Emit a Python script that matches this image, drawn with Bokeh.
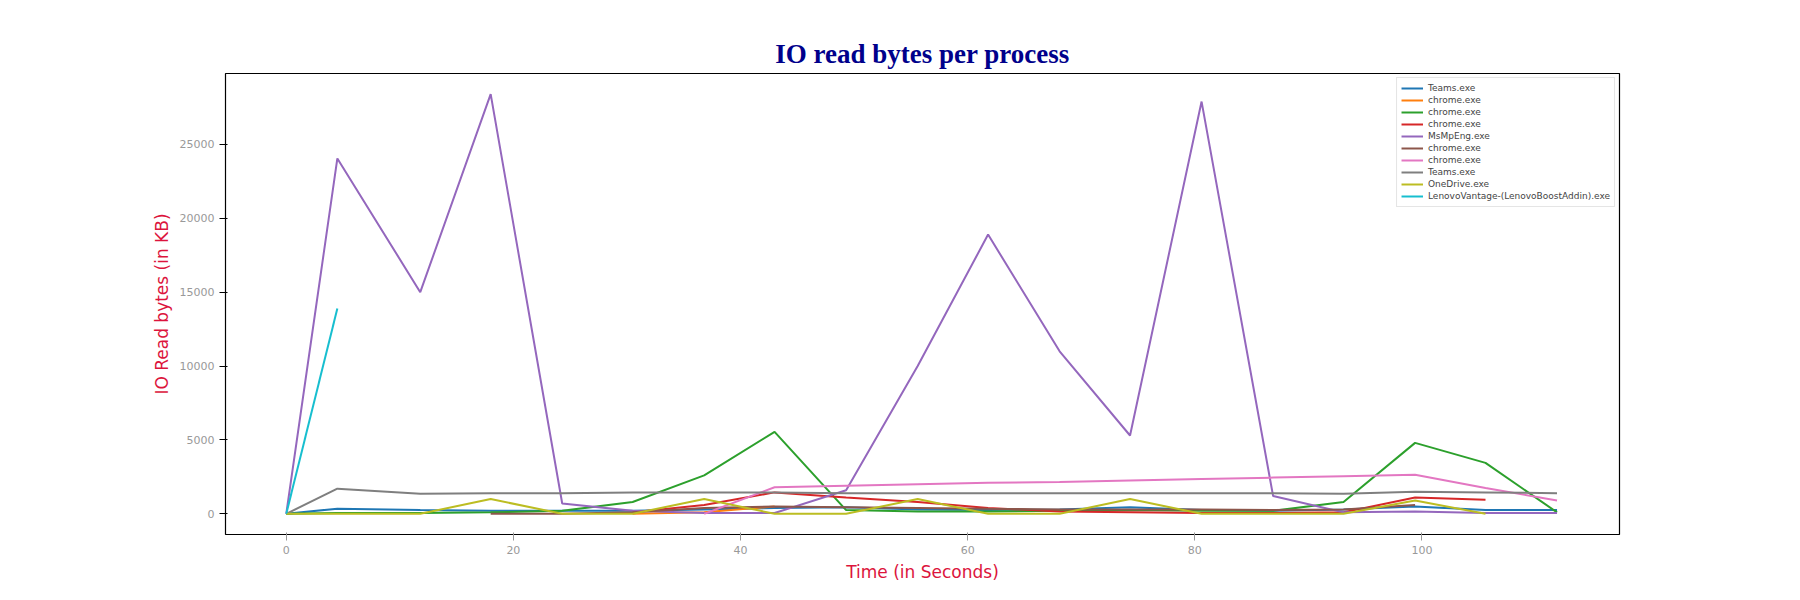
from bokeh.plotting import figure
from bokeh.models import Legend, LegendItem, Range1d, SingleIntervalTicker
from bokeh.embed import file_html
from bokeh.resources import INLINE

t = [0, 4.5, 11.8, 18.0, 24.3, 30.5, 36.8, 43.0, 49.3, 55.6, 61.8, 68.1, 74.3, 80.6, 86.9, 93.1, 99.4, 105.6, 111.9]

teams1_t = t
teams1_v = [0, 350, 250, 200, 200, 200, 300, 400, 450, 300, 250, 300, 450, 250, 200, 300, 500, 250, 250]
chrome1_t = t[5:8]
chrome1_v = [0, 100, 500]
chrome2_t = t
chrome2_v = [0, 50, 50, 100, 200, 800, 2600, 5550, 250, 150, 150, 200, 250, 200, 200, 800, 4800, 3450, 100]
chrome3_t = t[5:18]
chrome3_v = [100, 600, 1450, 1100, 800, 400, 150, 100, 50, 50, 100, 1100, 950]
msmp_t = t
msmp_v = [0, 24050, 15000, 28400, 700, 200, 50, 50, 1600, 10000, 18900, 11000, 5300, 27900, 1200, 100, 150, 50, 50]
chrome4_t = t[3:17]
chrome4_v = [0, 0, 100, 400, 500, 450, 400, 350, 300, 300, 300, 250, 300, 600]
chrome5_t = t[6:19]
chrome5_v = [0, 1800, 1900, 2000, 2100, 2150, 2250, 2350, 2450, 2550, 2650, 1750, 900]
teams2_t = t
teams2_v = [0, 1700, 1350, 1400, 1400, 1450, 1450, 1450, 1400, 1400, 1400, 1400, 1400, 1400, 1400, 1350, 1500, 1450, 1400]
onedrive_t = t[:18]
onedrive_v = [0, 0, 0, 1000, 0, 0, 1000, 0, 0, 1000, 0, 0, 1000, 0, 0, 0, 900, 0]
lenovo_t = t[:2]
lenovo_v = [0, 13900]

names = ["Teams.exe", "chrome.exe", "chrome.exe", "chrome.exe", "MsMpEng.exe", "chrome.exe",
         "chrome.exe", "Teams.exe", "OneDrive.exe", "LenovoVantage-(LenovoBoostAddin).exe"]
series = [(teams1_t, teams1_v), (chrome1_t, chrome1_v), (chrome2_t, chrome2_v), (chrome3_t, chrome3_v),
          (msmp_t, msmp_v), (chrome4_t, chrome4_v), (chrome5_t, chrome5_v), (teams2_t, teams2_v),
          (onedrive_t, onedrive_v), (lenovo_t, lenovo_v)]
colors = ["#1f77b4", "#ff7f0e", "#2ca02c", "#d62728", "#9467bd", "#8c564b", "#e377c2", "#7f7f7f", "#bcbd22", "#17becf"]

p = figure(width=1784, height=584, output_backend="svg", toolbar_location=None,
           x_range=Range1d(-5.35, 117.4), y_range=Range1d(-1400, 29800),
           min_border_left=225, min_border_right=165, min_border_top=73, min_border_bottom=49)
p.title.text = "IO read bytes per process"
p.title.align = "center"
p.title.text_font = "Liberation Serif"
p.title.text_font_size = "27px"
p.title.text_color = "#00008b"
p.title.text_font_style = "bold"
p.xgrid.visible = False
p.ygrid.visible = False
p.outline_line_color = "black"
p.outline_line_width = 1.2

for ax in (p.xaxis[0], p.yaxis[0]):
    ax.major_label_text_color = "#999999"
    ax.major_label_text_font_size = "11px"
    ax.minor_tick_line_color = None
    ax.axis_line_color = None
    ax.major_label_text_font = "DejaVu Sans"
    ax.axis_label_text_color = "#dc143c"
    ax.axis_label_text_font = "DejaVu Sans"
    ax.axis_label_text_font_size = "17px"
    ax.axis_label_text_font_style = "normal"
p.xaxis[0].ticker = SingleIntervalTicker(interval=20)
p.yaxis[0].ticker = SingleIntervalTicker(interval=5000)
p.xaxis[0].major_tick_line_color = "#999999"
p.xaxis.axis_label = "Time (in Seconds)"
p.yaxis.axis_label = "IO Read bytes (in KB)"

items = []
for (xs, ys), c, n in zip(series, colors, names):
    r = p.line(xs, ys, line_color=c, line_width=2)
    items.append(LegendItem(label=n, renderers=[r]))

leg = Legend(items=items, location="top_right", label_text_font_size="9px",
             label_text_font="DejaVu Sans", glyph_height=12, label_height=12, spacing=0,
             padding=4, margin=4, border_line_color="#cccccc", glyph_width=22)
p.add_layout(leg)

open("out.html", "w").write(file_html(p, INLINE))
